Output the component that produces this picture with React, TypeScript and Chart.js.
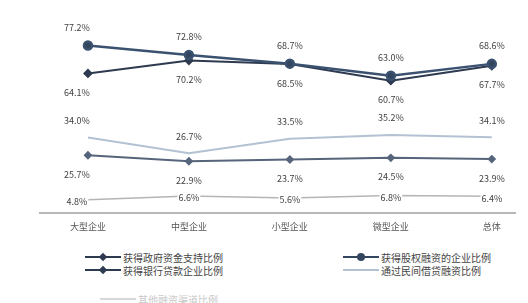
import React, { useEffect, useRef } from "react";
import { Chart, registerables } from "chart.js";

Chart.register(...registerables);

const categories = ["大型企业", "中型企业", "小型企业", "微型企业", "总体"];
const seriesNames = [
  "获得股权融资的企业比例",
  "获得银行贷款企业比例",
  "通过民间借贷融资比例",
  "获得政府资金支持比例",
  "其他融资渠道比例",
];
const seriesA = [77.2, 72.8, 68.7, 63.0, 68.6];
const seriesB = [64.1, 70.2, 68.5, 60.7, 67.7];
const seriesC = [34.0, 26.7, 33.5, 35.2, 34.1];
const seriesD = [25.7, 22.9, 23.7, 24.5, 23.9];
const seriesE = [4.8, 6.6, 5.6, 6.8, 6.4];

const FONT = "'Noto Sans CJK SC', 'Noto Sans', sans-serif";

const labelPlugin = {
  id: "pctLabels",
  afterDatasetsDraw(chart: any) {
    const ctx = chart.ctx;
    ctx.save();
    ctx.font = `9px ${FONT}`;
    ctx.textAlign = "center";
    ctx.textBaseline = "middle";
    chart.data.datasets.forEach((ds: any, di: number) => {
      const meta = chart.getDatasetMeta(di);
      const off = ds.labelOffset as number;
      meta.data.forEach((pt: any, i: number) => {
        const v = ds.data[i].y;
        const txt = v.toFixed(1) + "%";
        const x = pt.x + (i === 0 ? -11 : 0);
        const y = pt.y + off;
        if (ds.labelOnLine) {
          const w = ctx.measureText(txt).width;
          ctx.fillStyle = "#ffffff";
          ctx.fillRect(x - w / 2 - 1, y - 5, w + 2, 10);
        }
        ctx.fillStyle = "#3f3f3f";
        ctx.fillText(txt, x, y);
      });
    });
    ctx.restore();
  },
};

const toPts = (arr: number[]) => arr.map((y, i) => ({ x: i, y }));

export default function App() {
  const ref = useRef<HTMLCanvasElement>(null);
  useEffect(() => {
    if (!ref.current) return;
    const chart = new Chart(ref.current, {
      type: "line",
      data: {
        datasets: [
          {
            label: seriesNames[0],
            data: toPts(seriesA),
            borderColor: "#3a5270",
            backgroundColor: "#34465e",
            borderWidth: 2.5,
            pointStyle: "circle",
            pointRadius: 4,
            labelOffset: -18,
          } as any,
          {
            label: seriesNames[1],
            data: toPts(seriesB),
            borderColor: "#2d3a4f",
            backgroundColor: "#2d3a4f",
            borderWidth: 2,
            pointStyle: "rectRot",
            pointRadius: 3.5,
            labelOffset: 19,
          } as any,
          {
            label: seriesNames[2],
            data: toPts(seriesC),
            borderColor: "#b3c2d2",
            backgroundColor: "#b3c2d2",
            borderWidth: 2,
            pointRadius: 0,
            labelOffset: -17,
          } as any,
          {
            label: seriesNames[3],
            data: toPts(seriesD),
            borderColor: "#56657b",
            backgroundColor: "#56657b",
            borderWidth: 2,
            pointStyle: "rectRot",
            pointRadius: 3,
            labelOffset: 19,
          } as any,
          {
            label: seriesNames[4],
            data: toPts(seriesE),
            borderColor: "#b5b5b5",
            backgroundColor: "#b5b5b5",
            borderWidth: 1.5,
            pointRadius: 0,
            labelOffset: 2,
            labelOnLine: true,
          } as any,
        ],
      },
      options: {
        animation: false,
        responsive: false,
        maintainAspectRatio: false,
        layout: { padding: { left: 40, right: 13, top: 30, bottom: 8 } },
        plugins: { legend: { display: false }, tooltip: { enabled: false } },
        scales: {
          x: {
            type: "linear",
            min: -0.475,
            max: 4.23,
            afterBuildTicks: (axis: any) => {
              axis.ticks = categories.map((_, i) => ({ value: i }));
            },
            ticks: {
              callback: (v: any) => categories[v] ?? "",
              color: "#555",
              font: { family: FONT, size: 9 },
              padding: 8,
              maxRotation: 0,
              autoSkip: false,
            },
            grid: { display: false, drawTicks: false },
            border: { display: true, color: "#b8b8b8", width: 2 },
          },
          y: {
            display: false,
            min: -1.5,
            max: 84.5,
          },
        },
      },
      plugins: [labelPlugin],
    });
    return () => chart.destroy();
  }, []);

  const legendRow = (
    top: number,
    left: number,
    color: string,
    marker: "diamond" | "circle" | "none",
    text: string,
    textColor = "#444"
  ) => (
    <div style={{ position: "absolute", top, left, height: 12, display: "flex", alignItems: "center" }}>
      <div style={{ position: "relative", width: 36, height: 12 }}>
        <div style={{ position: "absolute", left: 0, right: 0, top: 5, height: 2, background: color }} />
        {marker === "diamond" && (
          <div
            style={{
              position: "absolute",
              left: 15,
              top: 3,
              width: 6,
              height: 6,
              background: color,
              transform: "rotate(45deg)",
            }}
          />
        )}
        {marker === "circle" && (
          <div
            style={{
              position: "absolute",
              left: 14,
              top: 2,
              width: 8,
              height: 8,
              borderRadius: 4,
              background: color,
            }}
          />
        )}
      </div>
      <span style={{ marginLeft: 2, fontFamily: FONT, fontSize: 10, color: textColor, whiteSpace: "nowrap" }}>{text}</span>
    </div>
  );

  return (
    <div style={{ position: "fixed", left: 0, top: 0, width: 528, height: 303, background: "#fff", overflow: "hidden" }}>
      <canvas ref={ref} width={528} height={248} style={{ position: "absolute", left: 0, top: 0 }} />
      {legendRow(251, 85, "#2d3a4f", "diamond", seriesNames[3])}
      {legendRow(264, 85, "#2d3a4f", "diamond", seriesNames[1])}
      {legendRow(251, 343, "#34465e", "circle", seriesNames[0])}
      {legendRow(264, 343, "#b3c2d2", "none", seriesNames[2])}
      {legendRow(293, 100, "#d8d8d8", "none", seriesNames[4], "#c8c8c8")}
    </div>
  );
}
